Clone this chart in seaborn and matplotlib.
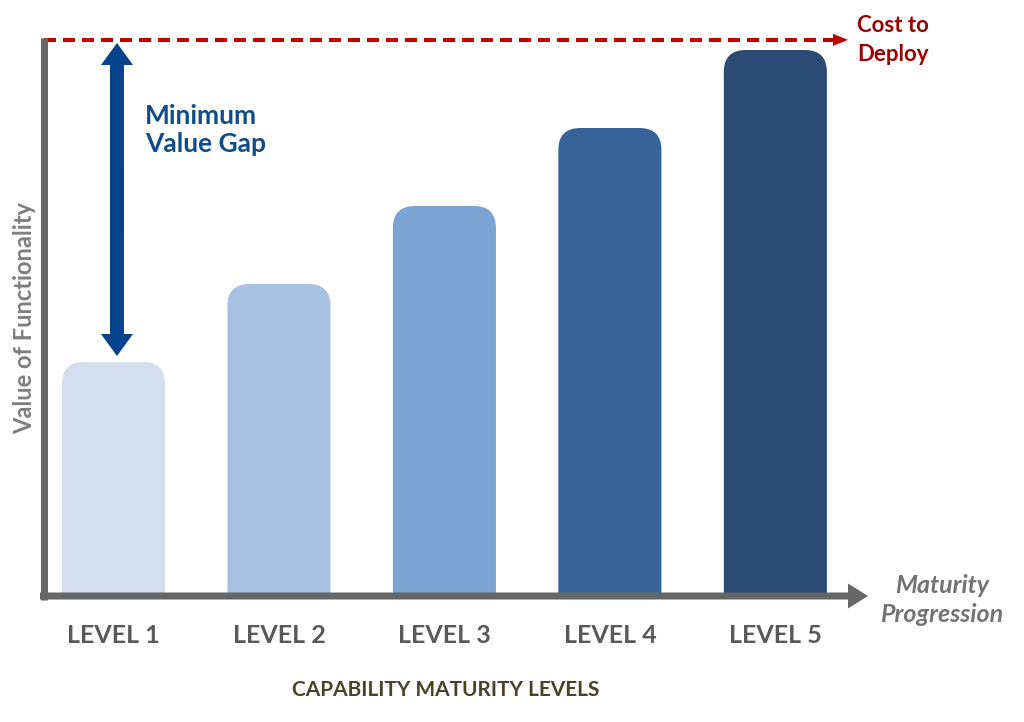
import matplotlib
matplotlib.use("Agg")
import matplotlib.pyplot as plt
from matplotlib.patches import FancyBboxPatch
import seaborn as sns
import pandas as pd

# ---- data ----
levels = ["LEVEL 1", "LEVEL 2", "LEVEL 3", "LEVEL 4", "LEVEL 5"]
values = [3, 4, 5, 6, 7]
bar_colors = ["#D3DFEE", "#A7C1E2", "#7BA3D4", "#376399", "#2B4A74"]
cost_level = 7.13
gap_label = "Minimum\nValue Gap"
cost_label = "Cost to\nDeploy"
x_title = "CAPABILITY MATURITY LEVELS"
y_title = "Value of Functionality"
x_arrow_label = "Maturity\nProgression"

sns.set_style("white")
plt.rcParams["font.family"] = ["Lato", "DejaVu Sans"]

W, H = 1024, 722
fig = plt.figure(figsize=(W / 100, H / 100), dpi=100)
ax_left, ax_bottom_px, ax_w, ax_h = 44, 596, 824, 561.6
ax = fig.add_axes([ax_left / W, (H - ax_bottom_px) / H, ax_w / W, ax_h / H])

df = pd.DataFrame({"level": levels, "value": values})
sns.barplot(data=df, x="level", y="value", hue="level", palette=bar_colors,
            width=0.623, legend=False, ax=ax, saturation=1)
ax.set_xlim(-0.42, 4.56)
ax.set_ylim(0, 7.2)

px_x = ax_w / (4.56 + 0.42)
px_y = ax_h / 7.2
r_px = 22
for p in list(ax.patches):
    x, w, h = p.get_x(), p.get_width(), p.get_height()
    fc = p.get_facecolor()
    p.set_visible(False)
    box = FancyBboxPatch((x, -1), w, h + 1,
                         boxstyle=f"round,pad=0,rounding_size={r_px / px_x}",
                         mutation_aspect=px_x / px_y, fc=fc, ec="none", zorder=2)
    ax.add_patch(box)

for s in ax.spines.values():
    s.set_visible(False)
ax.set_yticks([])
ax.tick_params(axis="x", length=0, pad=20, labelsize=18, labelcolor="#595959")
for t in ax.get_xticklabels():
    t.set_fontweight("bold")

ax.set_xlabel(x_title, fontsize=15, fontweight="bold", color="#4A4226")
ax.xaxis.set_label_coords((446 - ax_left) / ax_w, -(690 - ax_bottom_px) / ax_h)
ax.xaxis.label.set_va("center")
ax.set_ylabel(y_title, fontsize=17, fontweight="bold", color="#7F7F7F")
ax.yaxis.set_label_coords((25 - ax_left) / ax_w, (ax_bottom_px - 318) / ax_h)
ax.yaxis.label.set_va("center")

PT = 100 / 72.0  # px per point


def arrow(xy_from, xy_to, coords, shaft_px, head_w_px, head_len_px, color, z=5):
    ms = 10
    unit = ms * PT
    style = (f"simple,head_length={head_len_px / unit},head_width={head_w_px / unit},"
             f"tail_width={shaft_px / unit}")
    ax.annotate("", xy=xy_to, xytext=xy_from, xycoords=coords, textcoords=coords,
                arrowprops=dict(arrowstyle=style, mutation_scale=ms, lw=0,
                                fc=color, ec="none", shrinkA=0, shrinkB=0),
                zorder=z, annotation_clip=False)


gray = "#666666"
# y axis line
ax.plot([0, 0], [-3.5 / ax_h, (ax_bottom_px - 38) / ax_h], transform=ax.transAxes,
        color=gray, lw=7 / PT, solid_capstyle="butt", clip_on=False, zorder=6)
# x axis arrow
arrow((-4 / ax_w, 0), (1.0, 0), "axes fraction", 7, 25, 20, gray, z=6)

# dashed cost line with arrow head
tip_x = (848 - 113.5) / px_x
ax.plot([-0.42, tip_x - 10 / px_x], [cost_level, cost_level], color="#C00000",
        lw=4 / PT, ls=(0, (3.0, 1.75)), clip_on=False, zorder=4)
ax.annotate("", xy=(tip_x, cost_level), xytext=(-15 / PT, 0), xycoords="data",
            textcoords="offset points",
            arrowprops=dict(arrowstyle=f"simple,head_length={15 / (10 * PT)},"
                                       f"head_width={12 / (10 * PT)},tail_width=0.01",
                            mutation_scale=10, lw=0, fc="#C00000", ec="none",
                            shrinkA=0, shrinkB=0),
            zorder=4, annotation_clip=False)

# double-headed value-gap arrow (two overlapping halves)
ax_x = (117 - 113.5) / px_x
top_y = (ax_bottom_px - 43) / px_y
bot_y = (ax_bottom_px - 356) / px_y
mid_y = (top_y + bot_y) / 2
arrow((ax_x, mid_y - 0.4), (ax_x, top_y), "data", 14, 32, 22, "#06438A")
arrow((ax_x, mid_y + 0.4), (ax_x, bot_y), "data", 14, 32, 22, "#06438A")

ax.text((145 - 113.5) / px_x, (ax_bottom_px - 130) / px_y, gap_label,
        fontsize=19, fontweight="bold", color="#0F4C8A", ha="left", va="center",
        linespacing=1.2)
ax.text((857 - 113.5) / px_x, (ax_bottom_px - 40) / px_y, cost_label,
        fontsize=16, fontweight="bold", color="#990000", ha="left", va="center",
        linespacing=1.45, clip_on=False)
fig.text(942 / W, 1 - 600 / H, x_arrow_label, fontsize=18, fontweight="bold",
         fontstyle="italic", color="#737373", ha="center", va="center",
         linespacing=1.3)

fig.savefig("out.png", dpi=100)
